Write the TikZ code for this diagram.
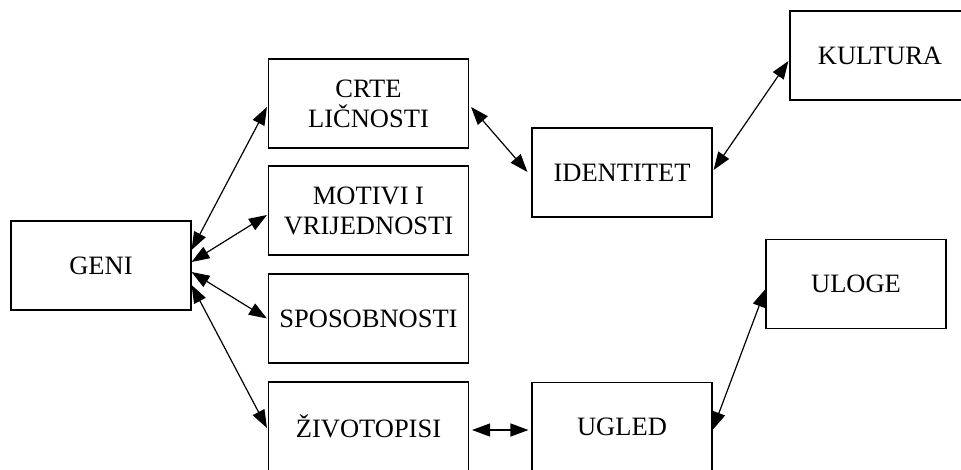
\documentclass[tikz,border=0pt]{standalone}
\usepackage{fontspec}
\setmainfont{Liberation Serif}
\usepackage{tikz}
\usetikzlibrary{arrows.meta}

\begin{document}
\begin{tikzpicture}[x=1pt,y=-1pt,>={Triangle[length=18pt,width=13pt]},
	box/.style={rectangle,draw,line width=1.1pt,inner sep=0pt,minimum width=180pt,minimum height=89pt,
		align=center,font={\fontsize{26.5}{30}\selectfont}},
	link/.style={<->,line width=1.2pt}]
	\clip (0,0) rectangle (961,470); % slika je odrezana s desne i donje strane
	
	\node[box] (geni) at (101,265.5){GENI};
	
	\foreach \i/\y/\name in {1/103.5/{CRTE\\LIČNOSTI},2/210.5/{MOTIVI I\\VRIJEDNOSTI},3/318.5/SPOSOBNOSTI,4/426.5/ŽIVOTOPISI}{
		\node[box,minimum width=200pt] (c\i) at (368.5,\y){\name};
	}
	
	\node[box] (identitet) at (622,172.5){IDENTITET};
	\node[box] (kultura) at (880,55.5){KULTURA};
	\node[box] (ugled) at (622,427){UGLED};
	\node[box] (uloge) at (856,284){ULOGE};
	
	\foreach \i/\a/\b in {1/15.5/-3.5,2/3.5/-4.5,3/-6.5/0,4/-19.5/-1.5}{
		\draw[link] ([yshift=\a pt]geni.east) -- ([yshift=\b pt,xshift=-1pt]c\i.west);}
	
	\draw[link] ([yshift=-3.5pt,xshift=2pt]c1.east) -- ([yshift=0.5pt,xshift=-4pt]identitet.west);
	\draw[link] ([yshift=2.5pt,xshift=1pt]identitet.east) -- ([yshift=-5.5pt,xshift=-1pt]kultura.west);
	\draw[link] ([yshift=-3.5pt,xshift=3pt]c4.east) -- ([yshift=-3pt,xshift=-3pt]ugled.west);
	\draw[link] ([yshift=-3pt]ugled.east) -- ([yshift=-5pt]uloge.west);
\end{tikzpicture}
\end{document}
